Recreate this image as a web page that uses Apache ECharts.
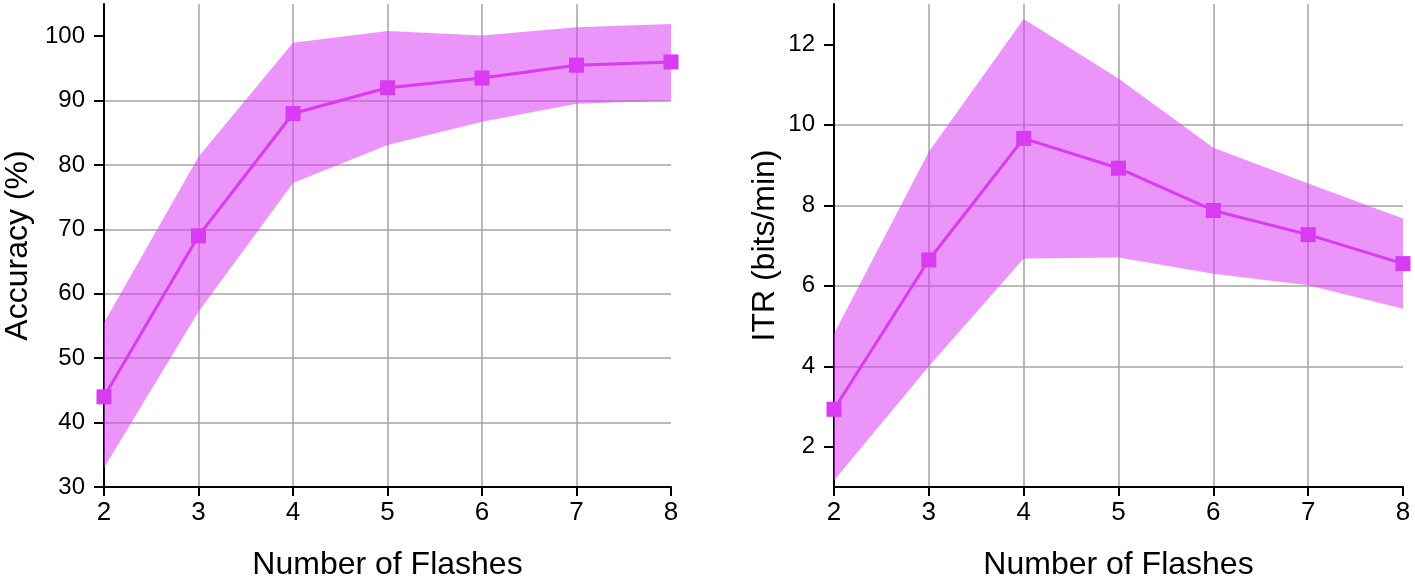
<!DOCTYPE html>
<html>
<head>
<meta charset="utf-8">
<script src="https://cdn.jsdelivr.net/npm/echarts@6/dist/echarts.min.js"></script>
<style>
html,body{margin:0;padding:0;background:#fff;}
#c{width:1415px;height:580px;}
</style>
</head>
<body>
<div id="c"></div>
<script>
// ---- data ----
const flashes = [2, 3, 4, 5, 6, 7, 8];
const accMean  = [44, 69, 88, 92, 93.5, 95.5, 96];
const accLower = [33, 57.2, 77.2, 83.1, 86.7, 89.5, 90];
const accUpper = [55.5, 81.3, 99, 100.8, 100.1, 101.4, 101.9];
const itrMean  = [2.93, 6.64, 9.66, 8.92, 7.87, 7.27, 6.55];
const itrLower = [1.16, 4.0, 6.68, 6.70, 6.30, 6.01, 5.43];
const itrUpper = [4.81, 9.33, 12.63, 11.15, 9.43, 8.54, 7.67];
const xTicks = [2, 3, 4, 5, 6, 7, 8];
const accTicks = [30, 40, 50, 60, 70, 80, 90, 100];
const itrTicks = [2, 4, 6, 8, 10, 12];

const FONT = 'Liberation Sans, Arial, sans-serif';
const lineColor = '#d83bf2';
const bandColor = 'rgba(218,60,245,0.55)';
const gridColor = '#a3a3a3';

function pairs(xs, ys) { return xs.map((x, i) => [x, ys[i]]); }

function xAxisDef(gridIndex) {
  return {
    type: 'value', gridIndex, min: 2, max: 8, interval: 1,
    name: 'Number of Flashes', nameLocation: 'middle', nameGap: 62,
    nameTextStyle: { fontFamily: FONT, fontSize: 32, color: '#000' },
    axisLine: { show: true, onZero: false, lineStyle: { color: '#000', width: 2 } },
    axisTick: { show: true, length: 9, lineStyle: { color: '#000', width: 2 }, customValues: xTicks },
    axisLabel: { fontFamily: FONT, fontSize: 26, color: '#000', margin: 13, customValues: xTicks },
    splitLine: { show: true, showMinLine: false, showMaxLine: false, lineStyle: { color: gridColor, width: 1.5 } }
  };
}
function yAxisDef(gridIndex, name, min, max, ticks, gap) {
  return {
    type: 'value', gridIndex, min, max,
    name, nameLocation: 'middle', nameGap: gap, nameRotate: 90,
    nameTextStyle: { fontFamily: FONT, fontSize: 32, color: '#000' },
    axisLine: { show: true, onZero: false, lineStyle: { color: '#000', width: 2 } },
    axisTick: { show: true, length: 10, lineStyle: { color: '#000', width: 2 }, customValues: ticks },
    axisLabel: { fontFamily: FONT, fontSize: 24, color: '#000', margin: 19, customValues: ticks },
    splitLine: { show: true, showMinLine: false, showMaxLine: false, lineStyle: { color: gridColor, width: 1.5 } }
  };
}
function bandSeries(idx, lower, upper) {
  return {
    type: 'custom', xAxisIndex: idx, yAxisIndex: idx, silent: true, z: 1,
    data: [[flashes[0], lower[0]]],
    renderItem: function (params, api) {
      const pts = [];
      for (let i = 0; i < flashes.length; i++) pts.push(api.coord([flashes[i], upper[i]]));
      for (let i = flashes.length - 1; i >= 0; i--) pts.push(api.coord([flashes[i], lower[i]]));
      return { type: 'polygon', shape: { points: pts }, style: { fill: bandColor } };
    }
  };
}
function meanSeries(idx, mean) {
  return { type: 'line', xAxisIndex: idx, yAxisIndex: idx, data: pairs(flashes, mean), clip: false,
    symbol: 'rect', symbolSize: 15, lineStyle: { color: lineColor, width: 3 },
    itemStyle: { color: lineColor }, z: 3 };
}

const chart = echarts.init(document.getElementById('c'), null, { renderer: 'canvas' });
chart.setOption({
  animation: false,
  backgroundColor: '#fff',
  grid: [
    { left: 104, top: 4, width: 567, height: 483, containLabel: false, outerBoundsMode: 'none' },
    { left: 834, top: 4, width: 569, height: 483, containLabel: false, outerBoundsMode: 'none' }
  ],
  xAxis: [xAxisDef(0), xAxisDef(1)],
  yAxis: [
    yAxisDef(0, 'Accuracy (%)', 30, 105, accTicks, 70),
    yAxisDef(1, 'ITR (bits/min)', 1, 13, itrTicks, 53)
  ],
  series: [
    bandSeries(0, accLower, accUpper),
    meanSeries(0, accMean),
    bandSeries(1, itrLower, itrUpper),
    meanSeries(1, itrMean)
  ]
});
</script>
</body>
</html>
